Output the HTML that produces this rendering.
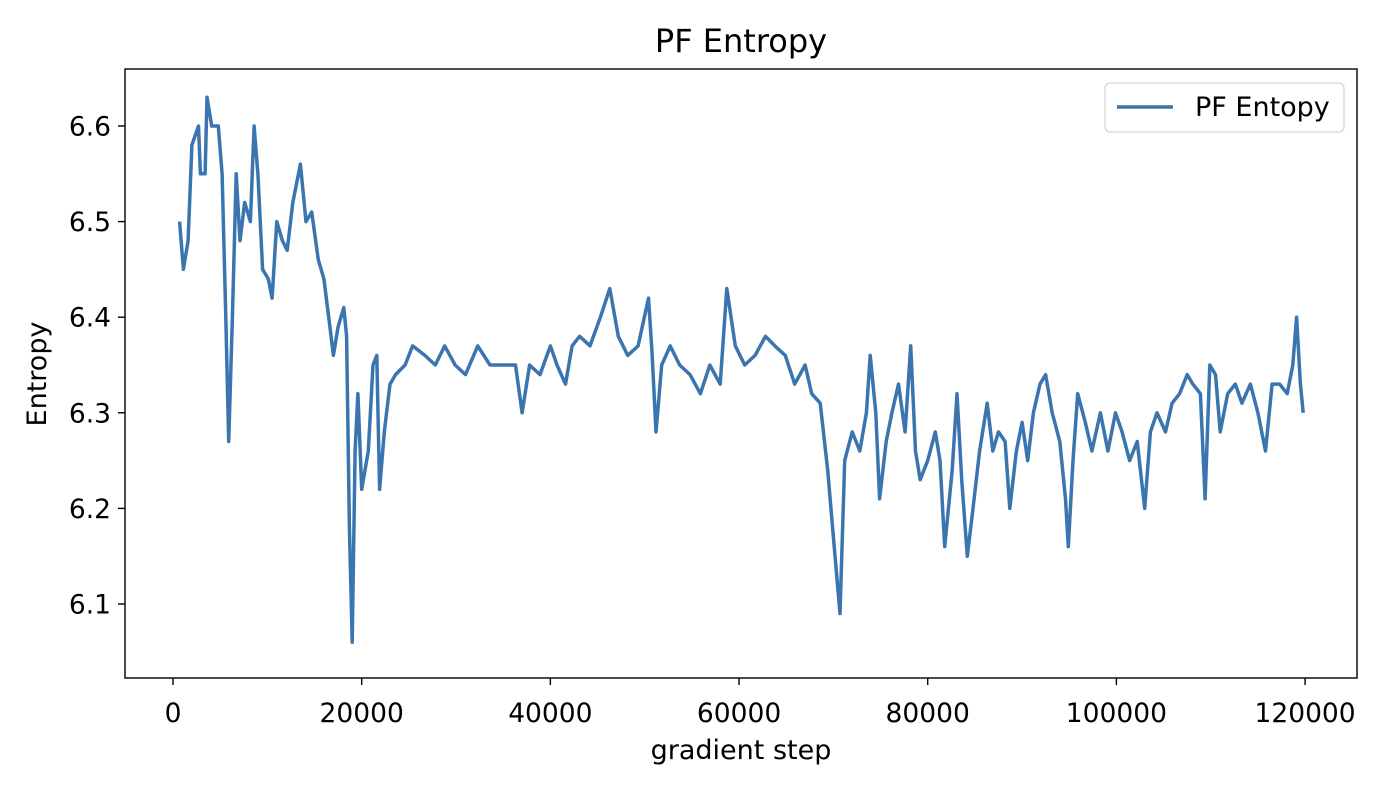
<!DOCTYPE html>
<html><head><meta charset="utf-8"><style>
body{margin:0;background:#fff;}
svg text{font-family:"DejaVu Sans","Liberation Sans",sans-serif;fill:#000;}
</style></head><body>
<svg id="chart" width="1384" height="784" xmlns="http://www.w3.org/2000/svg">
<rect x="0" y="0" width="1384" height="784" fill="#fff"/>
<text x="741" y="52" text-anchor="middle" font-size="32">PF Entropy</text>
<g id="xticks"></g><g id="yticks"></g>
<path id="line" fill="none" stroke="#3b75af" stroke-width="3.5" stroke-linejoin="round"/>
<rect x="125" y="69" width="1232" height="609" fill="none" stroke="#000" stroke-width="1.4"/>
<text x="741" y="759" text-anchor="middle" font-size="27">gradient step</text>
<text transform="translate(46,374) rotate(-90)" text-anchor="middle" font-size="27">Entropy</text>
<g>
<rect x="1105" y="83" width="239" height="49" rx="5" fill="#fff" stroke="#ccc"/>
<line x1="1117" y1="107" x2="1173" y2="107" stroke="#3b75af" stroke-width="3.5"/>
<text x="1195" y="116" font-size="27">PF Entopy</text>
</g>
</svg>
<script>
const steps=[700,1100,1600,2000,2700,2900,3400,3600,4100,4800,5200,5600,5900,6300,6700,7100,7600,8200,8600,9000,9500,10100,10500,11000,11600,12100,12700,13500,14100,14700,15400,16000,16500,17000,17500,18100,18400,18700,19000,19300,19600,20000,20700,21200,21600,21900,22400,23000,23600,24600,25400,26700,27800,28800,29900,31000,32300,33600,35200,36300,37000,37800,38900,40000,40700,41600,42300,43100,44200,45300,46300,47200,48200,49300,50400,50800,51200,51800,52700,53700,54800,55900,56900,58000,58700,59600,60600,61700,62800,63800,64900,65900,67000,67700,68600,69400,70000,70700,71200,72000,72800,73500,73900,74500,74900,75600,76200,76900,77600,78200,78700,79200,80000,80800,81300,81800,82600,83100,83600,84200,84800,85500,86300,86900,87500,88200,88700,89400,90000,90600,91200,91900,92500,93200,94000,94600,94900,95400,95900,96700,97400,98300,99100,99900,100600,101400,102200,103000,103600,104300,105200,105900,106700,107500,108100,108900,109400,109900,110500,111000,111800,112600,113300,114200,115000,115800,116500,117300,118100,118700,119100,119500,119800];
const entropy=[6.50,6.45,6.48,6.58,6.60,6.55,6.55,6.63,6.60,6.60,6.55,6.40,6.27,6.40,6.55,6.48,6.52,6.50,6.60,6.55,6.45,6.44,6.42,6.50,6.48,6.47,6.52,6.56,6.50,6.51,6.46,6.44,6.40,6.36,6.39,6.41,6.38,6.18,6.06,6.26,6.32,6.22,6.26,6.35,6.36,6.22,6.28,6.33,6.34,6.35,6.37,6.36,6.35,6.37,6.35,6.34,6.37,6.35,6.35,6.35,6.30,6.35,6.34,6.37,6.35,6.33,6.37,6.38,6.37,6.40,6.43,6.38,6.36,6.37,6.42,6.36,6.28,6.35,6.37,6.35,6.34,6.32,6.35,6.33,6.43,6.37,6.35,6.36,6.38,6.37,6.36,6.33,6.35,6.32,6.31,6.24,6.17,6.09,6.25,6.28,6.26,6.30,6.36,6.30,6.21,6.27,6.30,6.33,6.28,6.37,6.26,6.23,6.25,6.28,6.25,6.16,6.24,6.32,6.23,6.15,6.20,6.26,6.31,6.26,6.28,6.27,6.20,6.26,6.29,6.25,6.30,6.33,6.34,6.30,6.27,6.21,6.16,6.25,6.32,6.29,6.26,6.30,6.26,6.30,6.28,6.25,6.27,6.20,6.28,6.30,6.28,6.31,6.32,6.34,6.33,6.32,6.21,6.35,6.34,6.28,6.32,6.33,6.31,6.33,6.30,6.26,6.33,6.33,6.32,6.35,6.40,6.33,6.30];
const xTicks=[0,20000,40000,60000,80000,100000,120000];
const yTicks=[6.1,6.2,6.3,6.4,6.5,6.6];
const X0=125,X1=1357,Y0=69,Y1=678;
const xMin=-5088,xMax=125504,yMin=6.0226,yMax=6.6596;
const sx=v=>X0+(v-xMin)/(xMax-xMin)*(X1-X0);
const sy=v=>Y1-(v-yMin)/(yMax-yMin)*(Y1-Y0);
const NS='http://www.w3.org/2000/svg';
let d='';
steps.forEach((s,i)=>{d+=(i?'L':'M')+sx(s).toFixed(1)+','+sy(entropy[i]).toFixed(1);});
document.getElementById('line').setAttribute('d',d);
const xg=document.getElementById('xticks'),yg=document.getElementById('yticks');
xTicks.forEach(t=>{
const l=document.createElementNS(NS,'line');
l.setAttribute('x1',sx(t));l.setAttribute('x2',sx(t));l.setAttribute('y1',Y1);l.setAttribute('y2',Y1+7);l.setAttribute('stroke','#000');l.setAttribute('stroke-width','1.4');


xg.appendChild(l);
const tx=document.createElementNS(NS,'text');
tx.setAttribute('x',sx(t));tx.setAttribute('y',Y1+44);tx.setAttribute('text-anchor','middle');tx.setAttribute('font-size','26.5');
tx.textContent=t;


xg.appendChild(tx);
});
yTicks.forEach(t=>{
const l=document.createElementNS(NS,'line');
l.setAttribute('x1',X0-7);l.setAttribute('x2',X0);l.setAttribute('y1',sy(t));l.setAttribute('y2',sy(t));l.setAttribute('stroke','#000');l.setAttribute('stroke-width','1.4');


yg.appendChild(l);
const tx=document.createElementNS(NS,'text');
tx.setAttribute('x',X0-14);tx.setAttribute('y',sy(t)+9.5);tx.setAttribute('text-anchor','end');tx.setAttribute('font-size','26.5');
tx.textContent=t.toFixed(1);


yg.appendChild(tx);
});
</script>
</body></html>
